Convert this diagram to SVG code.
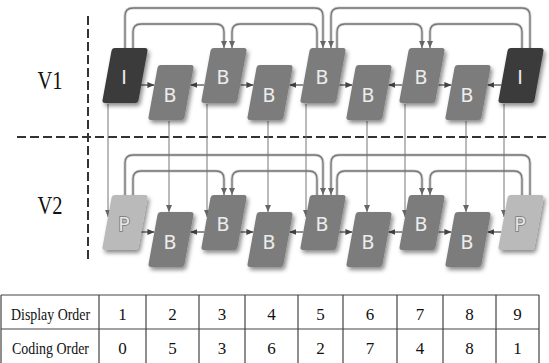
<svg xmlns="http://www.w3.org/2000/svg" xmlns:xlink="http://www.w3.org/1999/xlink" width="549" height="363" viewBox="0 0 549 363">
<style>
  .bg{fill:#ffffff}
  .dash{stroke:#333;stroke-width:2;stroke-dasharray:9 4;fill:none}
  .iN{fill:#3b3b3b}
  .bN{fill:#7c7c7c}
  .pN{fill:#bababa}
  .lbl{font-family:"DejaVu Sans","Liberation Sans",sans-serif;font-size:19px;fill:#ececec;text-anchor:middle}
  .plbl{font-family:"DejaVu Sans","Liberation Sans",sans-serif;font-size:19px;fill:#e6e6e6;stroke:#777777;stroke-width:1.6;paint-order:stroke;text-anchor:middle}
  .hz{stroke:#444;stroke-width:1.2;fill:none}
  .vt{stroke:#777;stroke-width:1;fill:none}
  .arcBack{stroke:#d4d4d4;stroke-width:3.2;fill:none}
  .arc{stroke:#767676;stroke-width:1.3;fill:none}
  .view{font-family:"Liberation Serif","Times New Roman",serif;font-size:26px;fill:#111;text-anchor:middle}
  .tl{stroke:#444;stroke-width:1.2;fill:none}
  .tt{font-family:"Liberation Serif","Times New Roman",serif;font-size:17px;fill:#111;text-anchor:middle}
</style>
<defs>
  <filter id="sh" x="-30%" y="-30%" width="160%" height="160%">
    <feDropShadow dx="2" dy="3" stdDeviation="2" flood-color="#000" flood-opacity="0.45"/>
  </filter>
  <path id="node" d="M -10,-27.5 L 20,-27.5 Q 23,-27.5 22.46,-24.55 L 13.54,24.55 Q 13,27.5 10,27.5 L -20,27.5 Q -23,27.5 -22.46,24.55 L -13.54,-24.55 Q -13,-27.5 -10,-27.5 Z"/>
  <marker id="ah" markerUnits="userSpaceOnUse" markerWidth="7" markerHeight="6" refX="7" refY="3" orient="auto">
    <path d="M0,0 L7,3 L0,6 Z" fill="#444"/>
  </marker>
  <marker id="av" markerUnits="userSpaceOnUse" markerWidth="7" markerHeight="6" refX="7" refY="3" orient="auto">
    <path d="M0,0 L7,3 L0,6 Z" fill="#666"/>
  </marker>
</defs>
<rect class="bg" x="0" y="0" width="549" height="363"/>

<!-- view separators -->
<g id="separators">
  <line class="dash" x1="88" y1="16" x2="88" y2="260"/>
  <line class="dash" x1="17" y1="137" x2="549" y2="137"/>
</g>
<g id="view-labels">
  <text class="view" x="50" y="89" textLength="25" lengthAdjust="spacingAndGlyphs">V1</text>
  <text class="view" x="50" y="214" textLength="25" lengthAdjust="spacingAndGlyphs">V2</text>
</g>

<!-- connectors -->
<g id="connectors">
  <!-- V1 reference arcs -->
  <g>
    <path class="arcBack" d="M125,48 V16 Q125,8 133,8 H315 Q323,8 323,16 V42"/>
    <path class="arcBack" d="M530,48 V16 Q530,8 522,8 H339 Q331,8 331,16 V42"/>
    <path class="arcBack" d="M133,48 V32 Q133,24 141,24 H216 Q224,24 224,32 V42"/>
    <path class="arcBack" d="M317,48 V32 Q317,24 309,24 H240 Q232,24 232,32 V42"/>
    <path class="arcBack" d="M337,48 V32 Q337,24 345,24 H414 Q422,24 422,32 V42"/>
    <path class="arcBack" d="M522,48 V32 Q522,24 514,24 H438 Q430,24 430,32 V42"/>
    <path class="arc" marker-end="url(#av)" d="M125,48 V16 Q125,8 133,8 H315 Q323,8 323,16 V48"/>
    <path class="arc" marker-end="url(#av)" d="M530,48 V16 Q530,8 522,8 H339 Q331,8 331,16 V48"/>
    <path class="arc" marker-end="url(#av)" d="M133,48 V32 Q133,24 141,24 H216 Q224,24 224,32 V48"/>
    <path class="arc" marker-end="url(#av)" d="M317,48 V32 Q317,24 309,24 H240 Q232,24 232,32 V48"/>
    <path class="arc" marker-end="url(#av)" d="M337,48 V32 Q337,24 345,24 H414 Q422,24 422,32 V48"/>
    <path class="arc" marker-end="url(#av)" d="M522,48 V32 Q522,24 514,24 H438 Q430,24 430,32 V48"/>
  </g>
  <!-- V2 reference arcs -->
  <g>
    <path class="arcBack" d="M125,195 V163 Q125,155 133,155 H315 Q323,155 323,163 V189"/>
    <path class="arcBack" d="M530,195 V163 Q530,155 522,155 H339 Q331,155 331,163 V189"/>
    <path class="arcBack" d="M133,195 V179 Q133,171 141,171 H216 Q224,171 224,179 V189"/>
    <path class="arcBack" d="M317,195 V179 Q317,171 309,171 H240 Q232,171 232,179 V189"/>
    <path class="arcBack" d="M337,195 V179 Q337,171 345,171 H414 Q422,171 422,179 V189"/>
    <path class="arcBack" d="M522,195 V179 Q522,171 514,171 H438 Q430,171 430,179 V189"/>
    <path class="arc" marker-end="url(#av)" d="M125,195 V163 Q125,155 133,155 H315 Q323,155 323,163 V195"/>
    <path class="arc" marker-end="url(#av)" d="M530,195 V163 Q530,155 522,155 H339 Q331,155 331,163 V195"/>
    <path class="arc" marker-end="url(#av)" d="M133,195 V179 Q133,171 141,171 H216 Q224,171 224,179 V195"/>
    <path class="arc" marker-end="url(#av)" d="M317,195 V179 Q317,171 309,171 H240 Q232,171 232,179 V195"/>
    <path class="arc" marker-end="url(#av)" d="M337,195 V179 Q337,171 345,171 H414 Q422,171 422,179 V195"/>
    <path class="arc" marker-end="url(#av)" d="M522,195 V179 Q522,171 514,171 H438 Q430,171 430,179 V195"/>
  </g>
  <!-- inter-view vertical arrows -->
  <g>
    <line class="vt" marker-end="url(#av)" x1="108" y1="104" x2="108" y2="217"/>
    <line class="vt" marker-end="url(#av)" x1="169" y1="121" x2="169" y2="212"/>
    <line class="vt" marker-end="url(#av)" x1="207" y1="104" x2="207" y2="217"/>
    <line class="vt" marker-end="url(#av)" x1="268" y1="121" x2="268" y2="212"/>
    <line class="vt" marker-end="url(#av)" x1="306" y1="104" x2="306" y2="217"/>
    <line class="vt" marker-end="url(#av)" x1="367" y1="121" x2="367" y2="212"/>
    <line class="vt" marker-end="url(#av)" x1="405" y1="104" x2="405" y2="217"/>
    <line class="vt" marker-end="url(#av)" x1="466" y1="121" x2="466" y2="212"/>
    <line class="vt" marker-end="url(#av)" x1="504" y1="104" x2="504" y2="217"/>
  </g>
  <!-- V1 horizontal arrows -->
  <g>
    <line class="hz" marker-end="url(#ah)" x1="141" y1="85" x2="154.4" y2="85"/>
    <line class="hz" marker-end="url(#ah)" x1="204.3" y1="85" x2="190.4" y2="85"/>
    <line class="hz" marker-end="url(#ah)" x1="240.3" y1="85" x2="253.4" y2="85"/>
    <line class="hz" marker-end="url(#ah)" x1="303.3" y1="85" x2="289.4" y2="85"/>
    <line class="hz" marker-end="url(#ah)" x1="339.3" y1="85" x2="352.4" y2="85"/>
    <line class="hz" marker-end="url(#ah)" x1="402.3" y1="85" x2="388.4" y2="85"/>
    <line class="hz" marker-end="url(#ah)" x1="438.3" y1="85" x2="451.4" y2="85"/>
    <line class="hz" marker-end="url(#ah)" x1="501.3" y1="85" x2="487.4" y2="85"/>
  </g>
  <!-- V2 horizontal arrows -->
  <g>
    <line class="hz" marker-end="url(#ah)" x1="141" y1="232" x2="154.4" y2="232"/>
    <line class="hz" marker-end="url(#ah)" x1="204.3" y1="232" x2="190.4" y2="232"/>
    <line class="hz" marker-end="url(#ah)" x1="240.3" y1="232" x2="253.4" y2="232"/>
    <line class="hz" marker-end="url(#ah)" x1="303.3" y1="232" x2="289.4" y2="232"/>
    <line class="hz" marker-end="url(#ah)" x1="339.3" y1="232" x2="352.4" y2="232"/>
    <line class="hz" marker-end="url(#ah)" x1="402.3" y1="232" x2="388.4" y2="232"/>
    <line class="hz" marker-end="url(#ah)" x1="438.3" y1="232" x2="451.4" y2="232"/>
    <line class="hz" marker-end="url(#ah)" x1="501.3" y1="232" x2="487.4" y2="232"/>
  </g>
</g>

<!-- V1 nodes -->
<g id="v1-n1" transform="translate(125,75.5)"><use href="#node" class="iN" filter="url(#sh)"/><text class="lbl" x="-1" y="8">I</text></g>
<g id="v1-n2" transform="translate(171,92.5)"><use href="#node" class="bN" filter="url(#sh)"/><text class="lbl" x="-1" y="9">B</text></g>
<g id="v1-n3" transform="translate(224,75.5)"><use href="#node" class="bN" filter="url(#sh)"/><text class="lbl" x="-1" y="8">B</text></g>
<g id="v1-n4" transform="translate(270,92.5)"><use href="#node" class="bN" filter="url(#sh)"/><text class="lbl" x="-1" y="9">B</text></g>
<g id="v1-n5" transform="translate(323,75.5)"><use href="#node" class="bN" filter="url(#sh)"/><text class="lbl" x="-1" y="8">B</text></g>
<g id="v1-n6" transform="translate(369,92.5)"><use href="#node" class="bN" filter="url(#sh)"/><text class="lbl" x="-1" y="9">B</text></g>
<g id="v1-n7" transform="translate(422,75.5)"><use href="#node" class="bN" filter="url(#sh)"/><text class="lbl" x="-1" y="8">B</text></g>
<g id="v1-n8" transform="translate(468,92.5)"><use href="#node" class="bN" filter="url(#sh)"/><text class="lbl" x="-1" y="9">B</text></g>
<g id="v1-n9" transform="translate(521,75.5)"><use href="#node" class="iN" filter="url(#sh)"/><text class="lbl" x="-1" y="8">I</text></g>

<!-- V2 nodes -->
<g id="v2-n1" transform="translate(125,222.5)"><use href="#node" class="pN" filter="url(#sh)"/><text class="plbl" x="-1" y="8">P</text></g>
<g id="v2-n2" transform="translate(171,239.5)"><use href="#node" class="bN" filter="url(#sh)"/><text class="lbl" x="-1" y="9">B</text></g>
<g id="v2-n3" transform="translate(224,222.5)"><use href="#node" class="bN" filter="url(#sh)"/><text class="lbl" x="-1" y="8">B</text></g>
<g id="v2-n4" transform="translate(270,239.5)"><use href="#node" class="bN" filter="url(#sh)"/><text class="lbl" x="-1" y="9">B</text></g>
<g id="v2-n5" transform="translate(323,222.5)"><use href="#node" class="bN" filter="url(#sh)"/><text class="lbl" x="-1" y="8">B</text></g>
<g id="v2-n6" transform="translate(369,239.5)"><use href="#node" class="bN" filter="url(#sh)"/><text class="lbl" x="-1" y="9">B</text></g>
<g id="v2-n7" transform="translate(422,222.5)"><use href="#node" class="bN" filter="url(#sh)"/><text class="lbl" x="-1" y="8">B</text></g>
<g id="v2-n8" transform="translate(468,239.5)"><use href="#node" class="bN" filter="url(#sh)"/><text class="lbl" x="-1" y="9">B</text></g>
<g id="v2-n9" transform="translate(521,222.5)"><use href="#node" class="pN" filter="url(#sh)"/><text class="plbl" x="-1" y="8">P</text></g>

<!-- order table -->
<g id="order-table">
  <path class="tl" d="M1,295 H539 M1,329 H539 M1,295 V363 M99,295 V363 M146,295 V363 M199,295 V363 M245,295 V363 M298,295 V363 M343,295 V363 M397,295 V363 M443,295 V363 M496,295 V363 M539,295 V363"/>
  <text class="tt" x="50.5" y="319.5" textLength="79" lengthAdjust="spacingAndGlyphs">Display Order</text>
  <text class="tt" x="50.5" y="353.5" textLength="77" lengthAdjust="spacingAndGlyphs">Coding Order</text>
  <text class="tt" x="122.5" y="320">1</text>
  <text class="tt" x="172.5" y="320">2</text>
  <text class="tt" x="222" y="320">3</text>
  <text class="tt" x="271.5" y="320">4</text>
  <text class="tt" x="320.5" y="320">5</text>
  <text class="tt" x="370" y="320">6</text>
  <text class="tt" x="420" y="320">7</text>
  <text class="tt" x="469.5" y="320">8</text>
  <text class="tt" x="517.5" y="320">9</text>
  <text class="tt" x="122.5" y="354">0</text>
  <text class="tt" x="172.5" y="354">5</text>
  <text class="tt" x="222" y="354">3</text>
  <text class="tt" x="271.5" y="354">6</text>
  <text class="tt" x="320.5" y="354">2</text>
  <text class="tt" x="370" y="354">7</text>
  <text class="tt" x="420" y="354">4</text>
  <text class="tt" x="469.5" y="354">8</text>
  <text class="tt" x="517.5" y="354">1</text>
</g>
</svg>
